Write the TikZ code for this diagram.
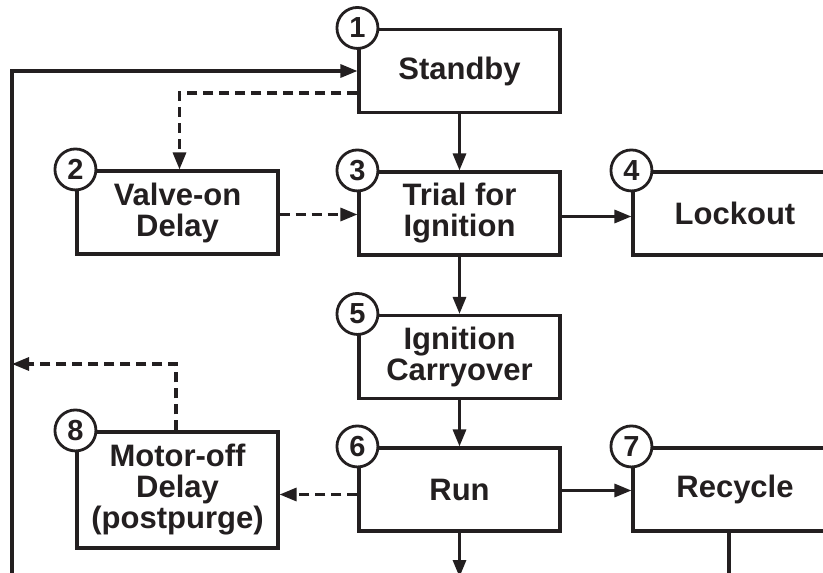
\documentclass[tikz,border=0pt]{standalone}
\usepackage{fontspec}
\setmainfont{Liberation Sans}
\usetikzlibrary{arrows.meta}
\definecolor{ink}{RGB}{35,31,32}
\tikzset{
  box/.style={draw=ink, text=ink, line width=3.1pt, fill=white, minimum width=201pt, minimum height=83pt, inner sep=0pt, align=center, font=\fontsize{31}{31}\selectfont\bfseries},
  num/.style={draw=ink, text=ink, circle, line width=2.8pt, fill=white, minimum size=41pt, inner sep=0pt, font=\fontsize{29}{29}\selectfont\bfseries},
  arr/.style={draw=ink, line width=3.1pt, -{Triangle[length=17pt,width=13pt]}},
  plain/.style={draw=ink, line width=3.1pt},
  darr/.style={draw=ink, line width=3.1pt, dash pattern=on 10pt off 6pt, -{Triangle[length=17pt,width=13pt]}},
}
\begin{document}
\begin{tikzpicture}[x=1pt,y=-1pt]
\clip (0,0) rectangle (823,573);
\fill[white] (0,0) rectangle (823,573);
% boxes
\node[box] (sb) at (459.5,71) {Standby};
\node[box] (vo) at (177.5,212.5) {Valve-on\\Delay};
\node[box] (tr) at (459.5,213.5) {Trial for\\Ignition};
\node[box, minimum width=204pt] (lo) at (735,213.5) {Lockout};
\node[box] (ig) at (459.5,357) {Ignition\\Carryover};
\node[box] (run) at (459.5,489.5) {Run};
\node[box, minimum width=204pt] (rc) at (735,489.5) {Recycle};
\node[box, minimum height=116pt] (mo) at (177.5,490) {Motor-off\\Delay\\(postpurge)};
% free ends
\coordinate (bl) at (12,590);
\coordinate (lj) at (12,364);
\coordinate (rb) at (459.5,577);
\coordinate (rcb) at (729,590);
% connectors
\draw[arr] (bl) |- (sb.west);
\draw[darr] ([yshift=-22pt]sb.west) -| ([xshift=2pt]vo.north);
\draw[darr] ([yshift=-2pt]vo.east) -- ([yshift=-2pt]vo.east -| tr.west);
\draw[arr] (sb.south) -- (tr.north);
\draw[arr] ([yshift=-3pt]tr.east) -- ([yshift=-3pt]tr.east -| lo.west);
\draw[arr] (tr.south) -- (ig.north);
\draw[arr] (ig.south) -- (run.north);
\draw[arr] ([yshift=-1pt]run.east) -- ([yshift=-1pt]run.east -| rc.west);
\draw[darr] ([yshift=-5pt]run.west) -- ([yshift=-5pt]run.west -| mo.east);
\draw[darr] ([xshift=-1.5pt]mo.north) |- (lj);
\draw[arr] (run.south) -- (rb);
\draw[plain] (rc.south -| rcb) -- (rcb);
% numbers
\node[num] (n1) at (sb.north west) {1};
\node[num] (n2) at (vo.north west) {2};
\node[num] (n3) at (tr.north west) {3};
\node[num] (n4) at (lo.north west) {4};
\node[num] (n5) at (ig.north west) {5};
\node[num] (n6) at (run.north west) {6};
\node[num] (n7) at (rc.north west) {7};
\node[num] (n8) at (mo.north west) {8};
\end{tikzpicture}
\end{document}
